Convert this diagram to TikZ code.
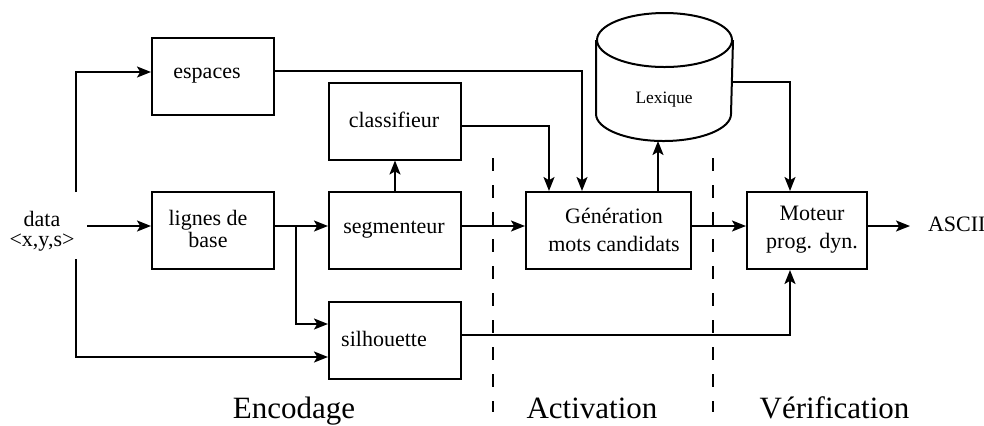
\documentclass[tikz,border=0pt]{standalone}
\usepackage{fontspec}
\setmainfont{Liberation Serif}
\usetikzlibrary{arrows.meta,calc}
\begin{document}
\begin{tikzpicture}[x=0.5pt,y=-0.5pt,
  line width=1pt,
  arr/.style={-{Stealth[length=7pt,width=5.5pt,inset=1.6pt]}},
  blockbox/.style={draw,line width=1pt,minimum height=38.5pt,inner sep=0pt},
  lbl/.style={font=\fontsize{11}{14}\selectfont,align=center,inner sep=0pt},
  phase/.style={font=\fontsize{15.5}{18}\selectfont,anchor=base,inner sep=0pt},
  sep/.style={dash pattern=on 6.5pt off 7pt,line width=1pt}]
\useasboundingbox (0,0) rectangle (984,425);
\clip (0,0) rectangle (984,425);

% processing blocks
\node[blockbox,minimum width=61pt] (esp) at (213,76.5) {};
\node[blockbox,minimum width=61pt] (lig) at (213,230.5) {};
\node[blockbox,minimum width=66pt] (cla) at (395,121) {};
\node[blockbox,minimum width=66pt] (seg) at (395,230.5) {};
\node[blockbox,minimum width=66pt] (sil) at (395,340.5) {};
\node[blockbox,minimum width=82.5pt] (gen) at (608.5,230.5) {};
\node[blockbox,minimum width=60pt] (mot) at (807,230.5) {};

% block captions
\node[lbl] (tesp) at (207,76) {espaces};
\node[lbl] (tlig) at (208,229) {lignes de\\[-3pt]base};
\node[lbl] (tcla) at (394,120) {classifieur};
\node[lbl] (tseg) at (394,230) {segmenteur};
\node[lbl] (tsil) at (384,339) {silhouette};
\node[lbl] (tgen) at (614,230) {Génération\\mots candidats};
\node[lbl] (tmot) at (812,230) {Moteur\\prog. dyn.};

% lexicon (cylinder)
\node[minimum width=67.5pt,minimum height=63pt,inner sep=0pt] (lex) at (664.5,77) {};
\draw ($(lex.north west)+(0,27)$) -- ($(lex.south west)+(0,-27)$)
      arc[start angle=180,end angle=360,x radius=67.5,y radius=-27]
      -- ($(lex.north east)+(0,27)$);
\draw ($(lex.north)+(0,27)$) ellipse[x radius=67.5,y radius=27];
\node[font=\fontsize{8.7}{10}\selectfont,inner sep=0pt] (tlex) at (664,100) {Lexique};

% input and output
\node[lbl,align=center] (data) at (42,231) {data\\[-4pt]<x,y,s>};
\node[lbl,anchor=west] (ascii) at (927,224) {ASCII};
\coordinate (din) at (87,226);
\coordinate (dup) at (76,192);
\coordinate (ddown) at (76,259);
\coordinate (dout) at (910,226);

% connectors
\draw[arr] (din) -- (din -| lig.west);
\draw[arr] (dup) -- (76,72) -- (esp.west |- 0,72);
\draw[arr] (ddown) -- (76,357) -- (sil.west |- 0,357);
\draw[arr] (lig.east |- 0,226) -- (seg.west |- 0,226);
\draw[arr] (296,226) -- (296,324) -- (sil.west |- 0,324);
\draw[arr] (seg.north) -- (cla.south);
\draw[arr] (esp.east |- 0,71) -- (582,71) -- (gen.north -| 582,0);
\draw[arr] (cla.east |- 0,126) -- (549,126) -- (gen.north -| 549,0);
\draw[arr] (seg.east |- 0,226) -- (gen.west |- 0,226);
\draw[arr] (gen.north -| 658,0) -- (lex.south -| 658,0);
\draw[arr] (lex.east |- 0,82) -- (790,82) -- (mot.north -| 790,0);
\draw[arr] (gen.east |- 0,226) -- (mot.west |- 0,226);
\draw[arr] (sil.east |- 0,335) -- (790,335) -- (mot.south -| 790,0);
\draw[arr] (mot.east |- 0,226) -- (dout);

% phase separators
\coordinate (s1t) at (493,158); \coordinate (s1b) at (493,412);
\coordinate (s2t) at (713,158); \coordinate (s2b) at (713,412);
\draw[sep] (s1t) -- (s1b);
\draw[sep] (s2t) -- (s2b);

% phase names
\node[phase] (penc) at (294,418) {Encodage};
\node[phase] (pact) at (592,418) {Activation};
\node[phase] (pver) at (834.5,418) {Vérification};
\end{tikzpicture}
\end{document}
